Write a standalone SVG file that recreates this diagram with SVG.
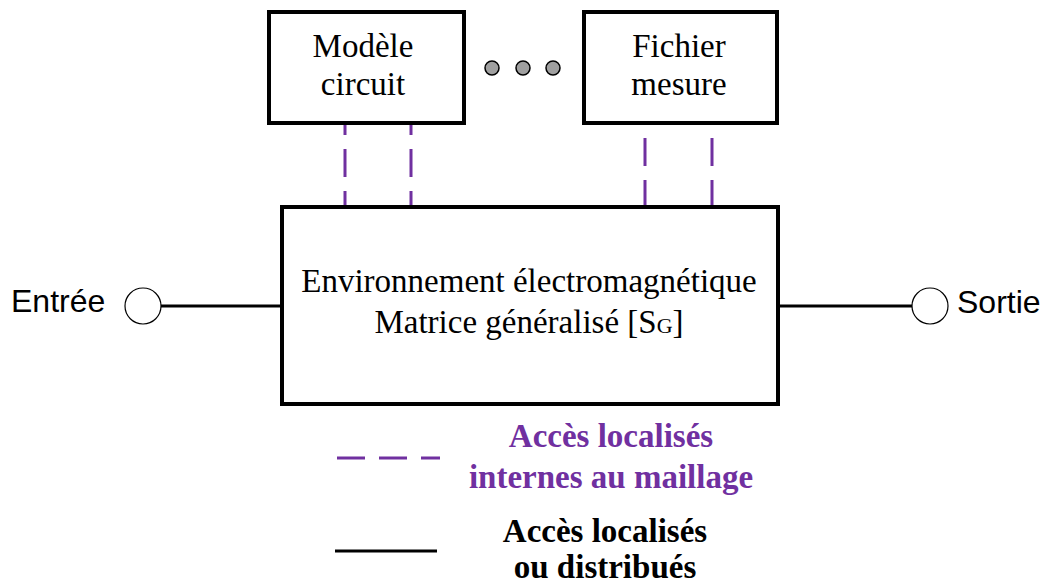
<svg xmlns="http://www.w3.org/2000/svg" width="1047" height="586" viewBox="0 0 1047 586">
  <style>
    .box { fill: #ffffff; stroke: #000000; stroke-width: 4; }
    .serif { font-family: "Liberation Serif", "Times New Roman", serif; font-size: 33px; fill: #000000; text-anchor: middle; }
    .sans { font-family: "Liberation Sans", Arial, sans-serif; font-size: 32px; fill: #000000; }
    .legend { font-family: "Liberation Serif", "Times New Roman", serif; font-size: 33px; font-weight: bold; text-anchor: middle; }
    .dash { stroke: #7030A0; stroke-width: 3; stroke-dasharray: 28 14; fill: none; }
    .wire { stroke: #000000; stroke-width: 3; fill: none; }
    .port { fill: #ffffff; stroke: #000000; stroke-width: 1.2; }
    .dot { fill: #a0a0a0; stroke: #000000; stroke-width: 1.5; }
  </style>

  <!-- connectors -->
  <g id="connectors">
    <line class="dash" x1="345" y1="125" x2="345" y2="205" stroke-dashoffset="18"/>
    <line class="dash" x1="411" y1="125" x2="411" y2="205" stroke-dashoffset="18"/>
    <line class="dash" x1="645" y1="138" x2="645" y2="205"/>
    <line class="dash" x1="712" y1="138" x2="712" y2="205"/>
    <line class="wire" x1="161" y1="306" x2="280" y2="306"/>
    <line class="wire" x1="780" y1="306" x2="912" y2="306"/>
  </g>

  <!-- circuit model block -->
  <g id="modele-circuit">
    <rect class="box" x="269" y="12" width="195" height="111"/>
    <text class="serif" x="363" y="57">Modèle</text>
    <text class="serif" x="363" y="95">circuit</text>
  </g>

  <!-- ellipsis between blocks -->
  <g id="ellipsis">
    <circle class="dot" cx="492" cy="68" r="7"/>
    <circle class="dot" cx="523" cy="68" r="7"/>
    <circle class="dot" cx="553" cy="68" r="7"/>
  </g>

  <!-- measurement file block -->
  <g id="fichier-mesure">
    <rect class="box" x="584" y="12" width="193" height="111"/>
    <text class="serif" x="679" y="57">Fichier</text>
    <text class="serif" x="679" y="95">mesure</text>
  </g>

  <!-- electromagnetic environment -->
  <g id="environnement">
    <rect class="box" x="282" y="207" width="496" height="197"/>
    <text class="serif" x="529" y="292">Environnement électromagnétique</text>
    <text class="serif" x="529" y="333">Matrice généralisé [S<tspan font-size="22">G</tspan>]</text>
  </g>

  <!-- input port -->
  <g id="entree">
    <circle class="port" cx="143" cy="306" r="18"/>
    <text class="sans" x="11" y="312">Entrée</text>
  </g>

  <!-- output port -->
  <g id="sortie">
    <circle class="port" cx="930" cy="306" r="18"/>
    <text class="sans" x="957" y="313">Sortie</text>
  </g>

  <!-- legend -->
  <g id="legende">
    <line class="dash" x1="337" y1="458" x2="440" y2="458"/>
    <text class="legend" x="611" y="447" fill="#7030A0">Accès localisés</text>
    <text class="legend" x="611" y="488" fill="#7030A0">internes au maillage</text>
    <line class="wire" x1="335" y1="551" x2="437" y2="551"/>
    <text class="legend" x="605" y="542" fill="#000000">Accès localisés</text>
    <text class="legend" x="605" y="578" fill="#000000">ou distribués</text>
  </g>
</svg>
